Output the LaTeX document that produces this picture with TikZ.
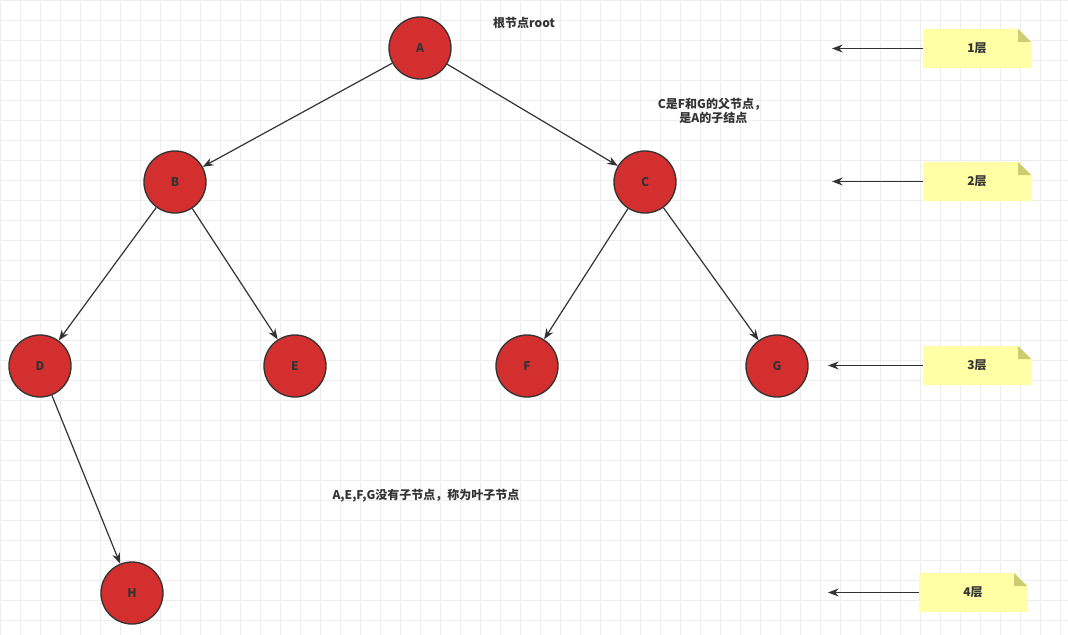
\documentclass[tikz,border=0pt]{standalone}
\usepackage{fontspec}
\setmainfont{Noto Sans CJK SC}
\usetikzlibrary{arrows.meta}
\definecolor{nodered}{HTML}{D32F2F}
\definecolor{txt}{HTML}{333333}
\definecolor{note}{HTML}{FFFFA6}
\definecolor{fold}{HTML}{CCCC73}
\definecolor{gridc}{HTML}{EDEDED}
\tikzset{
  tnode/.style={circle,draw=txt,line width=1pt,fill=nodered,minimum size=62*0.75pt,inner sep=0pt,font=\bfseries\small,text=txt},
  edge/.style={draw=txt,line width=0.9pt,-{Stealth[length=8pt,width=6pt]}},
  lbl/.style={font=\bfseries\small,text=txt,align=center},
}
\newcommand{\notebox}[5]{% name, x1,y1,x2,y2
  \fill[note] (#2,#3) -- (#4-13,#3) -- (#4,#3+13) -- (#4,#5) -- (#2,#5) -- cycle;
  \fill[fold] (#4-13,#3) -- (#4,#3+13) -- (#4-13,#3+13) -- cycle;
  \coordinate (#1) at (#2,{(#3+#5)/2});
  \node[lbl] at ({(#2+#4)/2},{(#3+#5)/2}) {\notetext};
}
\begin{document}
\begin{tikzpicture}[x=0.75pt,y=-0.75pt]
\useasboundingbox (0,0) rectangle (1068,635);
\fill[white] (0,0) rectangle (1068,635);
\draw[gridc,line width=0.6pt] (0,0) grid[step=20*0.75pt] (1068,635);
\node[tnode] (A) at (420,48) {A};
\node[tnode] (B) at (175,182) {B};
\node[tnode] (C) at (645,182) {C};
\node[tnode] (D) at (40,366) {D};
\node[tnode] (E) at (295,366) {E};
\node[tnode] (F) at (527,366) {F};
\node[tnode] (G) at (777,366) {G};
\node[tnode] (H) at (132,593) {H};
\draw[edge] (A) -- (B);
\draw[edge] (A) -- (C);
\draw[edge] (B) -- (D);
\draw[edge] (B) -- (E);
\draw[edge] (C) -- (F);
\draw[edge] (C) -- (G);
\draw[edge] (D) -- (H);
\def\notetext{1层}\notebox{n1}{923}{29}{1031}{68}
\def\notetext{2层}\notebox{n2}{923}{162}{1031}{201}
\def\notetext{3层}\notebox{n3}{923}{346}{1031}{385}
\def\notetext{4层}\notebox{n4}{919}{573}{1027}{612}
\coordinate (e1) at (832,48.5);
\coordinate (e2) at (832,181.5);
\coordinate (e3) at (828,365.5);
\coordinate (e4) at (828,592.5);
\draw[edge] (n1) -- (e1);
\draw[edge] (n2) -- (e2);
\draw[edge] (n3) -- (e3);
\draw[edge] (n4) -- (e4);
\node[lbl] (t1) at (524,23) {根节点root};
\node[lbl] (t2) at (712,111) {C是F和G的父节点，\\\ 是A的子结点};
\node[lbl] (t3) at (426,496) {A,E,F,G没有子节点，称为叶子节点};
\end{tikzpicture}
\end{document}
